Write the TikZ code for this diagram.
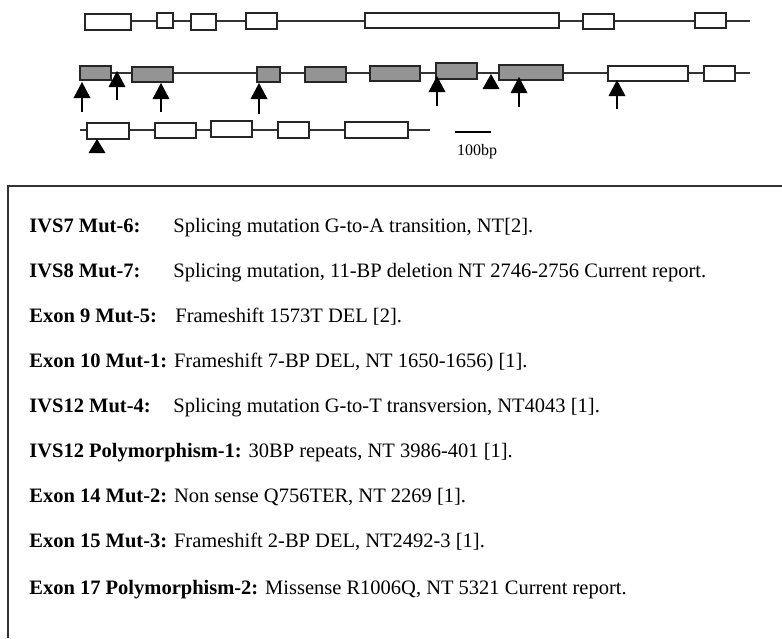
\documentclass[tikz,border=0pt]{standalone}
\usepackage{fontspec}
\setmainfont{Liberation Serif}
\usetikzlibrary{fit}
\begin{document}
\begin{tikzpicture}[x=0.5pt,y=-0.5pt,
  intron/.style={line width=0.8pt,black!80},
  exonw/.style={draw=black!85,line width=1pt,fill=white,inner sep=0pt},
  exong/.style={draw=black!85,line width=1pt,fill=black!42,inner sep=0pt},
  tri/.style={fill=black},
  stem/.style={line width=1pt},
  lab/.style={anchor=base west,inner sep=0pt,font=\fontsize{10.25}{12}\selectfont},
  frame/.style={line width=0.8pt,black!80}]
\useasboundingbox (0,0) rectangle (782,638);
% ---------- row 1
\coordinate (r1s) at (85,21); \coordinate (r1e) at (750,21);
\draw[intron] (r1s) -- (r1e);
\node[exonw,fit={(85,14) (131,30)}] (a1) {};
\node[exonw,fit={(157,13) (173,28)}] (a2) {};
\node[exonw,fit={(191,14) (216,30)}] (a3) {};
\node[exonw,fit={(246,13) (277,29)}] (a4) {};
\node[exonw,fit={(365,13) (559,28)}] (a5) {};
\node[exonw,fit={(583,14) (614,29)}] (a6) {};
\node[exonw,fit={(695,13) (726,28)}] (a7) {};
% ---------- row 2
\coordinate (r2s) at (80,73); \coordinate (r2e) at (750,73);
\draw[intron] (r2s) -- (r2e);
\node[exong,fit={(80,66) (111,80)}] (b1) {};
\node[exong,fit={(132,67) (173,82)}] (b2) {};
\node[exong,fit={(257,67) (280,82)}] (b3) {};
\node[exong,fit={(305,67) (346,82)}] (b4) {};
\node[exong,fit={(370,66) (420,81)}] (b5) {};
\node[exong,fit={(436,63) (477,79)}] (b6) {};
\node[exong,fit={(499,65) (563,80)}] (b7) {};
\node[exonw,fit={(608,66) (688,81)}] (b8) {};
\node[exonw,fit={(704,66) (735,81)}] (b9) {};
% ---------- row 3
\coordinate (r3s) at (80,130); \coordinate (r3e) at (430,130);
\draw[intron] (r3s) -- (r3e);
\node[exonw,fit={(87,123) (129,139)}] (c1) {};
\node[exonw,fit={(155,123) (196,138)}] (c2) {};
\node[exonw,fit={(211,121) (252,137)}] (c3) {};
\node[exonw,fit={(278,122) (309,138)}] (c4) {};
\node[exonw,fit={(345,122) (408,138)}] (c5) {};
% ---------- arrows
\foreach \n/\x/\y/\e in {m1/82/82/112, m2/117/71/100, m3/161/83/112, m4/259/83/114,
                         m5/437/76/106, m7/519/77/107, m8/617/80/109} {
  \coordinate (\n) at (\x,\y);
  \coordinate (\n e) at (\x,\e);
  \fill[tri] (\n) -- ++(-8.5,16) -- ++(17,0) -- cycle;
  \draw[stem] ([yshift=-8pt]\n) -- (\n e);
}
\coordinate (m6) at (491,74);
\fill[tri] (m6) -- ++(-8.5,15) -- ++(17,0) -- cycle;
\coordinate (m9) at (97,139);
\fill[tri] (m9) -- ++(-8.5,14) -- ++(17,0) -- cycle;
% ---------- scale bar
\coordinate (sb1) at (455,132); \coordinate (sb2) at (491,132);
\draw[line width=0.8pt] (sb1) -- (sb2);
\node[inner sep=0pt,font=\fontsize{8}{9}\selectfont] (sbl) at (477,152) {100bp};
% ---------- frame
\coordinate (f1) at (8,638); \coordinate (f2) at (8,186); \coordinate (f3) at (782,186);
\draw[frame] (f1) -- (f2) -- (f3);
% ---------- text
\node[lab] (t1) at (29,232) {\textbf{IVS7 Mut-6:}};
\node[lab] (d1) at (173,232) {Splicing mutation G-to-A transition, NT[2].};
\node[lab] (t2) at (29,277) {\textbf{IVS8 Mut-7:}};
\node[lab] (d2) at (173,277) {Splicing mutation, 11-BP deletion NT 2746-2756 Current report.};
\node[lab] (t3) at (29,322) {\textbf{Exon 9 Mut-5:}};
\node[lab] (d3) at (175,322) {Frameshift 1573T DEL [2].};
\node[lab] (t4) at (29,367) {\textbf{Exon 10 Mut-1:} Frameshift 7-BP DEL, NT 1650-1656) [1].};
\node[lab] (t5) at (29,412) {\textbf{IVS12 Mut-4:}};
\node[lab] (d5) at (173,412) {Splicing mutation G-to-T transversion, NT4043 [1].};
\node[lab] (t6) at (29,457) {\textbf{IVS12 Polymorphism-1:} 30BP repeats, NT 3986-401 [1].};
\node[lab] (t7) at (29,502) {\textbf{Exon 14 Mut-2:} Non sense Q756TER, NT 2269 [1].};
\node[lab] (t8) at (29,547) {\textbf{Exon 15 Mut-3:} Frameshift 2-BP DEL, NT2492-3 [1].};
\node[lab] (t9) at (29,594) {\textbf{Exon 17 Polymorphism-2:} Missense R1006Q, NT 5321 Current report.};
\end{tikzpicture}
\end{document}
